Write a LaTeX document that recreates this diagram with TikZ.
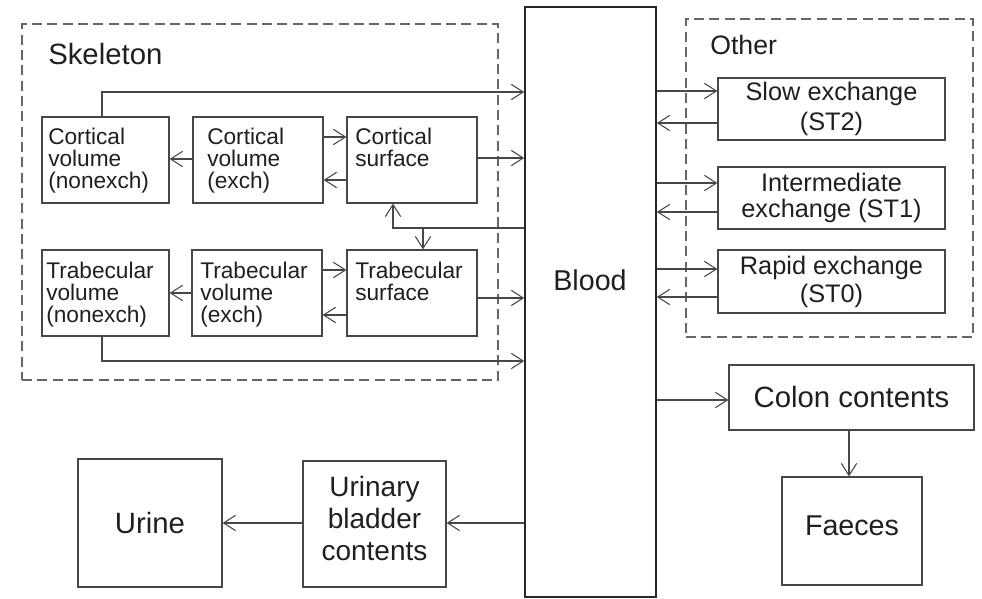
\documentclass[tikz,border=0pt]{standalone}
\usepackage{fontspec}
\setmainfont{Liberation Sans}
\usetikzlibrary{arrows.meta,fit}

\begin{document}
\begin{tikzpicture}[x=0.75pt,y=-0.75pt,
  box/.style={draw=black!72, line width=0.9pt, inner sep=0pt},
  group/.style={draw=black!60, line width=0.8pt, dash pattern=on 7.5pt off 4pt, inner sep=0pt},
  flow/.style={draw=black!72, line width=0.8pt, -{Straight Barb[length=9pt,width=11.5pt]}},
  small/.style={font=\fontsize{17}{16.5}\selectfont, inner sep=0pt, anchor=north west, align=left, text=black!88},
  mid/.style={inner sep=0pt, align=center, text=black!88},
  big/.style={font=\fontsize{22}{24}\selectfont, inner sep=0pt, align=center, text=black!88}
]
\useasboundingbox (0,0) rectangle (982,599);

% groups
\node[group, fit={(22,24) (498,380)}] (skel) {};
\node[group, fit={(686,19) (973,337)}] (other) {};
\node[big, anchor=north west] (skellab) at (48,43) {Skeleton};
\node[big, font=\fontsize{20}{22}\selectfont, anchor=north west] (otherlab) at (710,35) {Other};

% skeleton compartments
\node[box, fit={(42,117) (169,203)}] (cvn) {};
\node[box, fit={(193,117) (323,203)}] (cve) {};
\node[box, fit={(347,117) (477,203)}] (cs) {};
\node[box, fit={(42,250) (169,336)}] (tvn) {};
\node[box, fit={(192,250) (322,336)}] (tve) {};
\node[box, fit={(347,250) (477,336)}] (ts) {};
\node[small] (tcvn) at (48,128) {Cortical\\volume\\(nonexch)};
\node[small] (tcve) at (207,128) {Cortical\\volume\\(exch)};
\node[small] (tcs) at (355,128) {Cortical\\surface};
\node[small] (ttvn) at (46,262) {Trabecular\\volume\\(nonexch)};
\node[small] (ttve) at (200,262) {Trabecular\\volume\\(exch)};
\node[small] (tts) at (355,262) {Trabecular\\surface};

% blood
\node[box, line width=1.2pt, draw=black!85, fit={(525,7) (656,597)}] (blood) {};
\node[big, font=\fontsize{21.5}{24}\selectfont] (bloodlab) at (590,280) {Blood};

% other soft tissues
\node[box, fit={(718,78) (945,140)}] (slow) {};
\node[box, fit={(718,167) (945,229)}] (inter) {};
\node[box, fit={(718,250) (945,313)}] (rapid) {};
\node[mid, font=\fontsize{19}{22}\selectfont] (tslow) at (slow.center) {Slow exchange\\(ST2)};
\node[mid, font=\fontsize{19}{19}\selectfont] (tinter) at (inter.center) {Intermediate\\exchange (ST1)};
\node[mid, font=\fontsize{19}{21}\selectfont] (trapid) at (rapid.center) {Rapid exchange\\(ST0)};

% excretion
\node[box, fit={(729,365) (974,430)}] (colon) {};
\node[box, fit={(782,477) (922,585)}] (faeces) {};
\node[box, fit={(78,459) (222,587)}] (urine) {};
\node[box, fit={(303,461) (446,587)}] (bladder) {};
\node[big] (tcolon) at (colon.center) {Colon contents};
\node[big, font=\fontsize{21.5}{24}\selectfont] (tfaeces) at ([yshift=4pt]faeces.center) {Faeces};
\node[big] (turine) at (urine.center) {Urine};
\node[big, font=\fontsize{21}{24}\selectfont] (tbladder) at ([yshift=4pt]bladder.center) {Urinary\\bladder\\contents};

% skeleton flows
\draw[flow] (102,0 |- cvn.north) |- (blood.west |- 0,92);
\draw[flow] (cs.east |- 0,158) -- (blood.west |- 0,158);
\draw[flow] (cve.east |- 0,137) -- (cs.west |- 0,137);
\draw[flow] (cs.west |- 0,180) -- (cve.east |- 0,180);
\draw[flow] (cve.west |- 0,159) -- (cvn.east |- 0,159);
\draw[flow] (tve.east |- 0,270) -- (ts.west |- 0,270);
\draw[flow] (ts.west |- 0,315) -- (tve.east |- 0,315);
\draw[flow] (tve.west |- 0,293) -- (tvn.east |- 0,293);
\draw[flow] (ts.east |- 0,298) -- (blood.west |- 0,298);
\draw[flow] (102,0 |- tvn.south) |- (blood.west |- 0,361);
\draw[flow] (blood.west |- 0,228) -| (393,0 |- cs.south);
\coordinate (split) at (423,228);
\draw[flow] (split) -- (split |- ts.north);

% soft tissue exchange
\draw[flow] (blood.east |- 0,91) -- (slow.west |- 0,91);
\draw[flow] (slow.west |- 0,123) -- (blood.east |- 0,123);
\draw[flow] (blood.east |- 0,183) -- (inter.west |- 0,183);
\draw[flow] (inter.west |- 0,212) -- (blood.east |- 0,212);
\draw[flow] (blood.east |- 0,269) -- (rapid.west |- 0,269);
\draw[flow] (rapid.west |- 0,297) -- (blood.east |- 0,297);

% excretion pathways
\draw[flow] (blood.east |- 0,400) -- (colon.west |- 0,400);
\draw[flow] (849,0 |- colon.south) -- (849,0 |- faeces.north);
\draw[flow] (blood.west |- 0,523) -- (bladder.east |- 0,523);
\draw[flow] (bladder.west |- 0,523) -- (urine.east |- 0,523);
\end{tikzpicture}
\end{document}
